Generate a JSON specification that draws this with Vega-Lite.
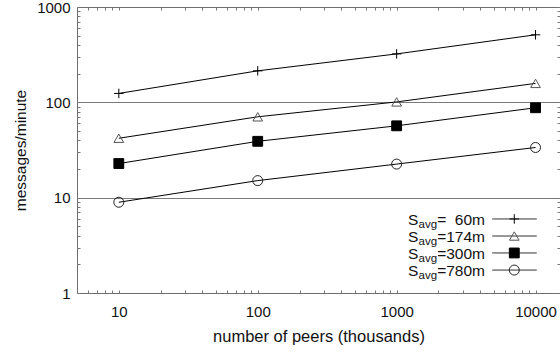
{
  "$schema": "https://vega.github.io/schema/vega-lite/v6.json",
  "width": 483,
  "height": 286,
  "autosize": {"type": "none"},
  "padding": {"left": 77, "top": 7, "right": 0, "bottom": 59},
  "background": "white",
  "config": {
    "font": "Liberation Sans",
    "view": {"stroke": "#6e6e6e", "strokeWidth": 1},
    "axis": {
      "domain": false,
      "tickColor": "#777777",
      "tickWidth": 1,
      "labelFont": "Liberation Sans",
      "labelFontSize": 15,
      "labelColor": "#111111",
      "titleFont": "Liberation Sans",
      "titleFontSize": 15.5,
      "titleFontWeight": "normal",
      "titleColor": "#111111",
      "grid": false
    }
  },
  "datasets": {
    "main": [
      {"s": "60m", "x": 10, "y": 124},
      {"s": "60m", "x": 100, "y": 214},
      {"s": "60m", "x": 1000, "y": 322},
      {"s": "60m", "x": 10000, "y": 511},
      {"s": "174m", "x": 10, "y": 42},
      {"s": "174m", "x": 100, "y": 70.5},
      {"s": "174m", "x": 1000, "y": 101},
      {"s": "174m", "x": 10000, "y": 158},
      {"s": "300m", "x": 10, "y": 22.8},
      {"s": "300m", "x": 100, "y": 39},
      {"s": "300m", "x": 1000, "y": 56.7},
      {"s": "300m", "x": 10000, "y": 87.7},
      {"s": "780m", "x": 10, "y": 8.95},
      {"s": "780m", "x": 100, "y": 15.1},
      {"s": "780m", "x": 1000, "y": 22.5},
      {"s": "780m", "x": 10000, "y": 33.6}
    ],
    "legend": [
      {"s": "60m", "lab": "=\u00a0\u00a060m", "ly": 5.98},
      {"s": "174m", "lab": "=174m", "ly": 3.96},
      {"s": "300m", "lab": "=300m", "ly": 2.63},
      {"s": "780m", "lab": "=780m", "ly": 1.74}
    ]
  },
  "layer": [
    {
      "data": {"name": "main"},
      "mark": {"type": "line", "color": "#000000", "strokeWidth": 1},
      "encoding": {
        "x": {
          "field": "x", "type": "quantitative",
          "scale": {"type": "log", "domain": [5, 15000], "nice": false},
          "title": "number of peers (thousands)",
          "axis": {
            "orient": "bottom",
            "values": [6,7,8,9,10,20,30,40,50,60,70,80,90,100,200,300,400,500,600,700,800,900,1000,2000,3000,4000,5000,6000,7000,8000,9000,10000],
            "format": "d",
            "labelExpr": "(datum.value==10||datum.value==100||datum.value==1000||datum.value==10000) ? datum.label : ''",
            "tickSize": -3,
            "labelPadding": 14,
            "titlePadding": 9,
            "titleFontSize": 16.5,
            "labelFlush": false,
            "labelOverlap": false
          }
        },
        "y": {
          "field": "y", "type": "quantitative",
          "scale": {"type": "log", "domain": [1, 1000], "nice": false},
          "title": "messages/minute",
          "axis": {
            "orient": "left",
            "values": [1,2,3,4,5,6,7,8,9,10,20,30,40,50,60,70,80,90,100,200,300,400,500,600,700,800,900,1000],
            "format": "d",
            "labelExpr": "(datum.value==1||datum.value==10||datum.value==100||datum.value==1000) ? datum.label : ''",
            "tickSize": -3,
            "labelPadding": 10,
            "titlePadding": 8,
            "labelFlush": false,
            "labelOverlap": false,
            "grid": true,
            "gridColor": "#7a7a7a",
            "gridWidth": 1,
            "gridOpacity": {"condition": {"test": "datum.value==10||datum.value==100", "value": 1}, "value": 0}
          }
        },
        "detail": {"field": "s"},
        "order": {"field": "x"}
      }
    },
    {
      "data": {"name": "main"},
      "mark": {"type": "point", "opacity": 1, "strokeWidth": 1},
      "encoding": {
        "x": {
          "field": "x", "type": "quantitative",
          "axis": {
            "orient": "top",
            "values": [6,7,8,9,10,20,30,40,50,60,70,80,90,100,200,300,400,500,600,700,800,900,1000,2000,3000,4000,5000,6000,7000,8000,9000,10000],
            "labels": false, "title": null, "tickSize": -3
          }
        },
        "y": {
          "field": "y", "type": "quantitative",
          "axis": {
            "orient": "right",
            "values": [1,2,3,4,5,6,7,8,9,10,20,30,40,50,60,70,80,90,100,200,300,400,500,600,700,800,900,1000],
            "labels": false, "title": null, "tickSize": -3
          }
        },
        "shape": {
          "field": "s", "type": "nominal", "legend": null,
          "scale": {"domain": ["60m", "174m", "300m", "780m"], "range": ["M-1,0H1M0,-1V1", "triangle-up", "square", "circle"]}
        },
        "size": {
          "field": "s", "type": "nominal", "legend": null,
          "scale": {"domain": ["60m", "174m", "300m", "780m"], "range": [90, 100, 64, 60]}
        },
        "fill": {
          "field": "s", "type": "nominal", "legend": null,
          "scale": {"domain": ["60m", "174m", "300m", "780m"], "range": ["transparent", "transparent", "#000000", "transparent"]}
        },
        "stroke": {
          "field": "s", "type": "nominal", "legend": null,
          "scale": {"domain": ["60m", "174m", "300m", "780m"], "range": ["#000000", "#555555", "#000000", "#222222"]}
        }
      }
    },
    {
      "data": {"name": "legend"},
      "mark": {"type": "rule", "color": "#333333", "strokeWidth": 1},
      "encoding": {
        "x": {"datum": 4877, "type": "quantitative", "axis": null},
        "x2": {"datum": 10204},
        "y": {"field": "ly", "type": "quantitative", "axis": null}
      }
    },
    {
      "data": {"name": "legend"},
      "mark": {"type": "point", "opacity": 1, "strokeWidth": 1},
      "encoding": {
        "x": {"datum": 7031, "type": "quantitative", "axis": null},
        "y": {"field": "ly", "type": "quantitative", "axis": null},
        "shape": {"field": "s", "type": "nominal", "legend": null},
        "size": {"field": "s", "type": "nominal", "legend": null},
        "fill": {"field": "s", "type": "nominal", "legend": null},
        "stroke": {"field": "s", "type": "nominal", "legend": null}
      }
    },
    {
      "data": {"name": "legend"},
      "mark": {"type": "text", "align": "left", "baseline": "middle", "fontSize": 15.5, "dy": 1, "color": "#111111", "font": "Liberation Sans"},
      "encoding": {
        "x": {"datum": 1208, "type": "quantitative", "axis": null},
        "y": {"field": "ly", "type": "quantitative", "axis": null},
        "text": {"value": "S"}
      }
    },
    {
      "data": {"name": "legend"},
      "mark": {"type": "text", "align": "left", "baseline": "middle", "fontSize": 11.5, "dy": 6, "color": "#111111", "font": "Liberation Sans"},
      "encoding": {
        "x": {"datum": 1439, "type": "quantitative", "axis": null},
        "y": {"field": "ly", "type": "quantitative", "axis": null},
        "text": {"value": "avg"}
      }
    },
    {
      "data": {"name": "legend"},
      "mark": {"type": "text", "align": "right", "baseline": "middle", "fontSize": 15.5, "dy": 1, "color": "#111111", "font": "Liberation Sans"},
      "encoding": {
        "x": {"datum": 4325, "type": "quantitative", "axis": null},
        "y": {"field": "ly", "type": "quantitative", "axis": null},
        "text": {"field": "lab"}
      }
    }
  ],
  "resolve": {"axis": {"x": "independent", "y": "independent"}}
}
